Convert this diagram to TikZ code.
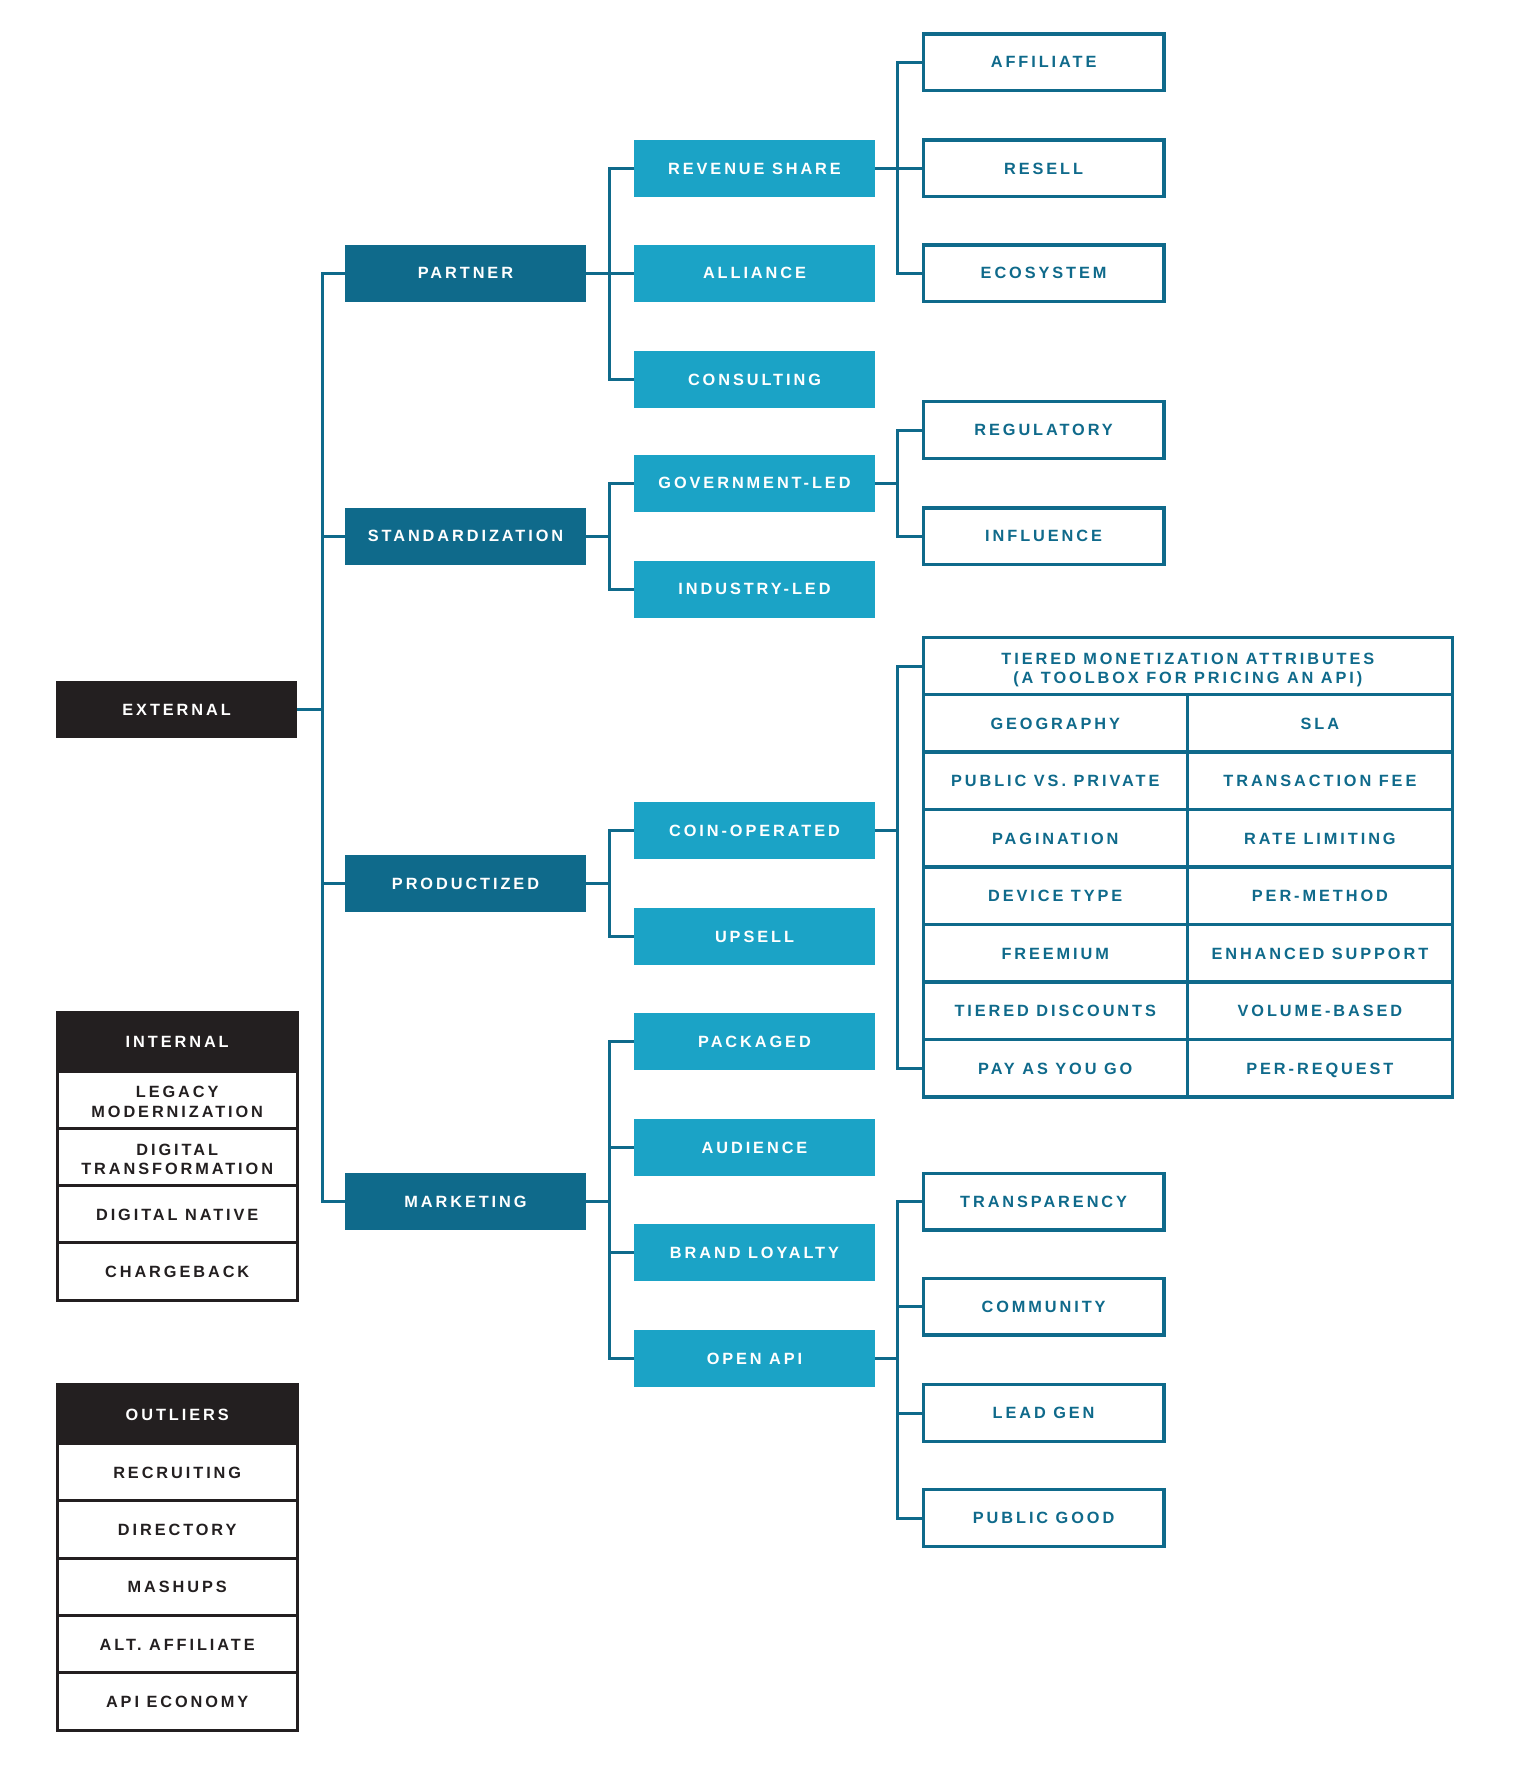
\documentclass[tikz,border=0pt]{standalone}
\usepackage{fontspec}
\newfontfamily\lblfont{Liberation Sans}[LetterSpace=18]
\definecolor{ink}{HTML}{231F20}
\definecolor{tealdk}{HTML}{0F6A8B}
\definecolor{sky}{HTML}{1BA3C6}
\begin{document}
\begin{tikzpicture}[x=1pt,y=-1pt,
  lblbase/.style={font=\lblfont\bfseries\fontsize{16.3}{19.4}\selectfont,
    align=center, inner sep=0pt, outer sep=0pt},
  lbl/.style={lblbase, text height=11.7pt, text depth=0pt},
  twoline/.style={lblbase, text height=35pt, text depth=0pt},
  box/.style={lbl, minimum width=241, minimum height=57},
  rootbox/.style={box, fill=ink, text=white},
  catbox/.style={box, fill=tealdk, text=white},
  subbox/.style={box, fill=sky, text=white},
  leafbox/.style={lbl, draw=tealdk, line width=3.4, text=tealdk,
    minimum width=240.5, minimum height=56.5},
  cellbase/.style={draw=tealdk, line width=3.4, text=tealdk, minimum height=57.5},
  lcell/.style={lbl, cellbase, minimum width=264.1},
  rcell/.style={lbl, cellbase, minimum width=265.2},
  grpbase/.style={draw=ink, line width=3, minimum width=240},
  grphead/.style={lbl, grpbase, fill=ink, text=white, minimum height=58.6},
  grprow/.style={lbl, grpbase, fill=white, text=ink, minimum height=57.3},
  grprow2/.style={twoline, grpbase, fill=white, text=ink, minimum height=57.3},
  conn/.style={draw=tealdk, line width=3}]
\useasboundingbox[fill=white] (0,0) rectangle (1518,1770);

% root
\node[rootbox] (ext) at (176.6,709.9) {EXTERNAL};

% first level
\node[catbox] (partner) at (465.5,273.1) {PARTNER};
\node[catbox] (std) at (465.5,536.1) {STANDARDIZATION};
\node[catbox] (prod) at (465.5,883.7) {PRODUCTIZED};
\node[catbox] (mkt) at (465.5,1201.9) {MARKETING};

% second level
\node[subbox] (rev) at (754.5,168.2) {REVENUE SHARE};
\node[subbox] (all) at (754.5,273.1) {ALLIANCE};
\node[subbox] (cons) at (754.5,379.2) {CONSULTING};
\node[subbox] (gov) at (754.5,483.0) {GOVERNMENT-LED};
\node[subbox] (ind) at (754.5,589.1) {INDUSTRY-LED};
\node[subbox] (coin) at (754.5,830.6) {COIN-OPERATED};
\node[subbox] (ups) at (754.5,936.7) {UPSELL};
\node[subbox] (pkg) at (754.5,1041.7) {PACKAGED};
\node[subbox] (aud) at (754.5,1147.8) {AUDIENCE};
\node[subbox] (brand) at (754.5,1252.8) {BRAND LOYALTY};
\node[subbox] (open) at (754.5,1358.8) {OPEN API};

% third level
\node[leafbox] (aff) at (1043.6,62.1) {AFFILIATE};
\node[leafbox] (res) at (1043.6,168.2) {RESELL};
\node[leafbox] (eco) at (1043.6,273.1) {ECOSYSTEM};
\node[leafbox] (reg) at (1043.6,430.0) {REGULATORY};
\node[leafbox] (inf) at (1043.6,536.1) {INFLUENCE};
\node[leafbox] (tra) at (1043.6,1201.9) {TRANSPARENCY};
\node[leafbox] (com) at (1043.6,1306.9) {COMMUNITY};
\node[leafbox] (lead) at (1043.6,1413.0) {LEAD GEN};
\node[leafbox] (pub) at (1043.6,1518.0) {PUBLIC GOOD};

% monetization attribute table
\node[twoline, cellbase, minimum width=529.3, minimum height=57] (tbh) at (1187.85,666)
  {TIERED MONETIZATION ATTRIBUTES\\(A TOOLBOX FOR PRICING AN API)};
\node[lcell] (t1l) at (1055.25,723.25) {GEOGRAPHY};
\node[rcell] (t1r) at (1319.9,723.25) {SLA};
\node[lcell] (t2l) at (1055.25,780.75) {PUBLIC VS. PRIVATE};
\node[rcell] (t2r) at (1319.9,780.75) {TRANSACTION FEE};
\node[lcell] (t3l) at (1055.25,838.25) {PAGINATION};
\node[rcell] (t3r) at (1319.9,838.25) {RATE LIMITING};
\node[lcell] (t4l) at (1055.25,895.75) {DEVICE TYPE};
\node[rcell] (t4r) at (1319.9,895.75) {PER-METHOD};
\node[lcell] (t5l) at (1055.25,953.25) {FREEMIUM};
\node[rcell] (t5r) at (1319.9,953.25) {ENHANCED SUPPORT};
\node[lcell] (t6l) at (1055.25,1010.75) {TIERED DISCOUNTS};
\node[rcell] (t6r) at (1319.9,1010.75) {VOLUME-BASED};
\node[lcell] (t7l) at (1055.25,1068.25) {PAY AS YOU GO};
\node[rcell] (t7r) at (1319.9,1068.25) {PER-REQUEST};

% internal list
\node[grphead] (int) at (177.2,1041.7) {INTERNAL};
\node[grprow2] (int1) at (177.2,1099.65) {LEGACY\\MODERNIZATION};
\node[grprow2] (int2) at (177.2,1156.95) {DIGITAL\\TRANSFORMATION};
\node[grprow] (int3) at (177.2,1214.25) {DIGITAL NATIVE};
\node[grprow] (int4) at (177.2,1271.55) {CHARGEBACK};

% outliers list
\node[grphead] (out) at (177.2,1414.15) {OUTLIERS};
\node[grprow] (out1) at (177.2,1472.2) {RECRUITING};
\node[grprow] (out2) at (177.2,1529.5) {DIRECTORY};
\node[grprow] (out3) at (177.2,1586.9) {MASHUPS};
\node[grprow] (out4) at (177.2,1644.2) {ALT. AFFILIATE};
\node[grprow] (out5) at (177.2,1701.5) {API ECONOMY};

% connectors
\foreach \c in {partner,std,prod,mkt}
  \draw[conn] (ext.east) -- ++(24.9,0) |- (\c.west);
\foreach \c in {rev,all,cons}
  \draw[conn] (partner.east) -- ++(23.7,0) |- (\c.west);
\foreach \c in {gov,ind}
  \draw[conn] (std.east) -- ++(23.7,0) |- (\c.west);
\foreach \c in {coin,ups}
  \draw[conn] (prod.east) -- ++(23.7,0) |- (\c.west);
\foreach \c in {pkg,aud,brand,open}
  \draw[conn] (mkt.east) -- ++(23.7,0) |- (\c.west);
\foreach \c in {aff,res,eco}
  \draw[conn] (rev.east) -- ++(22.6,0) |- (\c.west);
\foreach \c in {reg,inf}
  \draw[conn] (gov.east) -- ++(22.6,0) |- (\c.west);
\foreach \c in {tbh,t7l}
  \draw[conn] (coin.east) -- ++(22.6,0) |- (\c.west);
\foreach \c in {tra,com,lead,pub}
  \draw[conn] (open.east) -- ++(22.6,0) |- (\c.west);
\end{tikzpicture}
\end{document}
